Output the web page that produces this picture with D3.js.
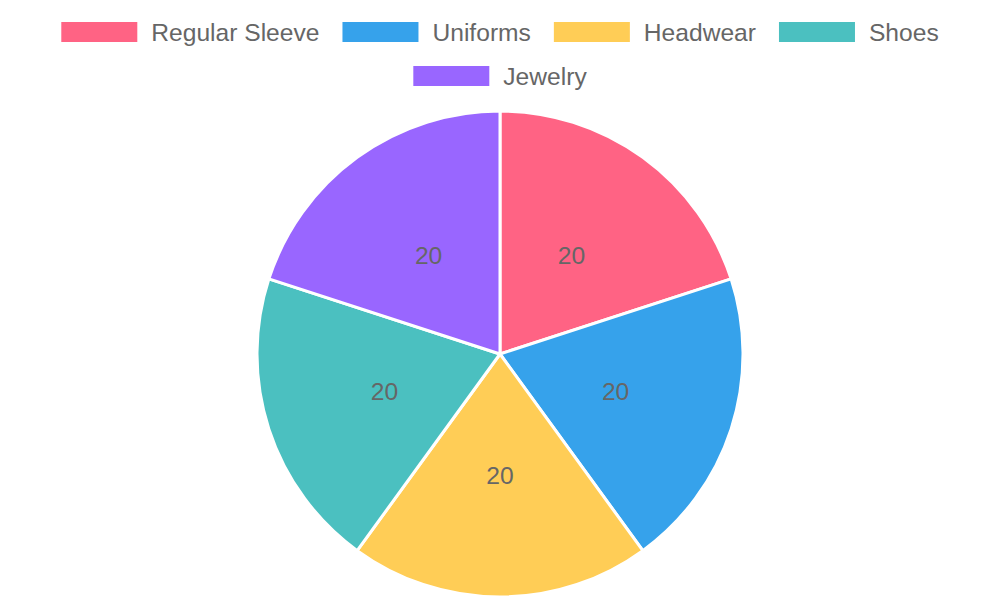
<!DOCTYPE html>
<html><head><meta charset="utf-8">
<script src="https://cdn.jsdelivr.net/npm/d3@7"></script>
<style>body{margin:0;background:#fff}svg{display:block}</style>
</head><body>
<svg id="c" width="1000" height="600"></svg>
<script>
const categories = ["Regular Sleeve", "Uniforms", "Headwear", "Shoes", "Jewelry"];
const values = [20, 20, 20, 20, 20];
const colors = ["#ff6384", "#36a2eb", "#ffcd56", "#4bc0c0", "#9966ff"];

const svg = d3.select("#c");
const W = 1000, H = 600;
const font = "'Liberation Sans', Arial, Helvetica, sans-serif";
const fs = 24.6, boxW = 76, boxH = 20, gap = 14, itemPad = 23;

// Legend
const lg = svg.append("g");
const items = categories.map((c, i) => {
  const t = lg.append("text").attr("font-family", font).attr("font-size", fs).attr("fill", "#666").text(c);
  const w = t.node().getComputedTextLength();
  return {c, i, t, w: boxW + gap + w};
});
const maxW = W - 40;
const rows = [[]]; let cur = 0;
items.forEach(it => {
  const add = (rows[rows.length-1].length ? itemPad : 0) + it.w;
  if (cur + add > maxW && rows[rows.length-1].length) { rows.push([it]); cur = it.w; }
  else { rows[rows.length-1].push(it); cur += add; }
});
rows.forEach((row, ri) => {
  const total = d3.sum(row, d => d.w) + itemPad * (row.length - 1);
  let x = (W - total) / 2;
  const cy = 32 + ri * 44;
  row.forEach(it => {
    lg.append("rect").attr("x", x).attr("y", cy - boxH/2).attr("width", boxW).attr("height", boxH).attr("fill", colors[it.i]);
    it.t.attr("x", x + boxW + gap).attr("y", cy).attr("dominant-baseline", "central");
    x += it.w + itemPad;
  });
});

// Pie
const cx = 500, cy = 354, r = 243;
const pie = d3.pie().sort(null).value(d => d)(values);
const arc = d3.arc().innerRadius(0).outerRadius(r);
const labelArc = d3.arc().innerRadius(r/2).outerRadius(r/2);
const g = svg.append("g").attr("transform", `translate(${cx},${cy})`);
g.selectAll("path").data(pie).join("path")
  .attr("d", arc).attr("fill", (d, i) => colors[i])
  .attr("stroke", "#fff").attr("stroke-width", 3).attr("stroke-linejoin", "round");
g.selectAll("text.v").data(pie).join("text").attr("class", "v")
  .attr("transform", d => { const p = labelArc.centroid(d); return `translate(${p[0]},${p[1]})`; })
  .attr("text-anchor", "middle").attr("dominant-baseline", "central")
  .attr("font-family", font).attr("font-size", fs).attr("fill", "#666")
  .text(d => d.data);
</script>
</body></html>
